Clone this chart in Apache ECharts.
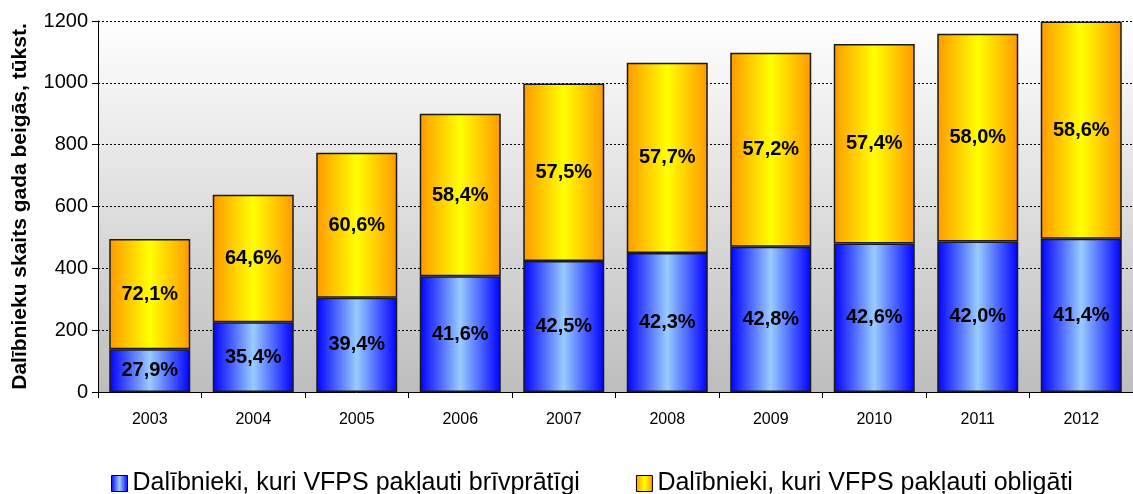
<!DOCTYPE html>
<html>
<head>
<meta charset="utf-8">
<script src="https://cdn.jsdelivr.net/npm/echarts@6/dist/echarts.min.js"></script>
<style>
  html, body { margin: 0; padding: 0; background: #fff; }
  #chart { width: 1133px; height: 494px; }
</style>
</head>
<body>
<div id="chart"></div>
<script>
// dati
const years = ['2003', '2004', '2005', '2006', '2007', '2008', '2009', '2010', '2011', '2012']
const voluntary = [138, 226, 305, 374, 424, 450, 470, 480, 487, 496]
const mandatory = [357, 412, 469, 526, 574, 615, 627, 646, 672, 702]
const voluntaryPct = ['27,9%', '35,4%', '39,4%', '41,6%', '42,5%', '42,3%', '42,8%', '42,6%', '42,0%', '41,4%']
const mandatoryPct = ['72,1%', '64,6%', '60,6%', '58,4%', '57,5%', '57,7%', '57,2%', '57,4%', '58,0%', '58,6%']
const yTicks = [0, 200, 400, 600, 800, 1000, 1200]

const chart = echarts.init(document.getElementById('chart'))

const hGrad = (edge, mid) => new echarts.graphic.LinearGradient(0, 0, 1, 0, [
  { offset: 0, color: edge },
  { offset: 0.5, color: mid },
  { offset: 1, color: edge }
])

const blueFill = hGrad('#0000ff', '#99ccff')
const orangeFill = hGrad('#ff9900', '#ffff00')

const labelStyle = {
  show: true,
  position: 'inside',
  color: '#000',
  fontFamily: 'Liberation Sans, Arial',
  fontWeight: 'bold',
  fontSize: 20
}

const option = {
  animation: false,
  textStyle: { fontFamily: 'Liberation Sans, Arial' },
  grid: {
    left: 98,
    right: -2,
    top: 21,
    bottom: 102,
    show: true,
    borderWidth: 0,
    backgroundColor: new echarts.graphic.LinearGradient(0, 0, 0, 1, [
      { offset: 0, color: '#ffffff' },
      { offset: 1, color: '#bdbdbd' }
    ])
  },
  legend: {
    bottom: -7,
    left: 106,
    itemGap: 56,
    itemWidth: 16,
    itemHeight: 16,
    textStyle: { fontSize: 25, color: '#000', fontFamily: 'Liberation Sans, Arial' },
    data: [
      { name: 'Dalībnieki, kuri VFPS pakļauti brīvprātīgi', icon: 'rect', itemStyle: { color: blueFill, borderColor: '#000', borderWidth: 1 } },
      { name: 'Dalībnieki, kuri VFPS pakļauti obligāti', icon: 'rect', itemStyle: { color: orangeFill, borderColor: '#000', borderWidth: 1 } }
    ]
  },
  xAxis: {
    type: 'category',
    data: years,
    axisLine: { lineStyle: { color: '#000', width: 1 } },
    axisTick: { show: true, length: 6, inside: false, lineStyle: { color: '#000' } },
    axisLabel: { color: '#000', fontSize: 16, margin: 20 }
  },
  yAxis: {
    type: 'value',
    min: yTicks[0],
    max: yTicks[yTicks.length - 1],
    interval: 200,
    name: 'Dalībnieku skaits gada beigās, tūkst.',
    nameLocation: 'middle',
    nameGap: 67,
    nameTextStyle: { fontSize: 21, fontWeight: 'bold', color: '#000' },
    axisLine: { show: true, lineStyle: { color: '#000', width: 1 } },
    axisTick: { show: true, length: 6, lineStyle: { color: '#000' } },
    axisLabel: { color: '#000', fontSize: 20, margin: 10, formatter: v => String(v) },
    splitLine: {
      show: true,
      lineStyle: { color: '#000', type: [2, 2], width: 1 }
    }
  },
  series: [
    {
      name: 'Dalībnieki, kuri VFPS pakļauti brīvprātīgi',
      type: 'bar',
      stack: 'total',
      barWidth: 81,
      data: voluntary,
      itemStyle: { color: blueFill, borderColor: '#1a1a1a', borderWidth: 1.5 },
      label: { ...labelStyle, formatter: p => voluntaryPct[p.dataIndex] }
    },
    {
      name: 'Dalībnieki, kuri VFPS pakļauti obligāti',
      type: 'bar',
      stack: 'total',
      barWidth: 81,
      data: mandatory,
      itemStyle: { color: orangeFill, borderColor: '#1a1a1a', borderWidth: 1.5 },
      label: { ...labelStyle, formatter: p => mandatoryPct[p.dataIndex] }
    }
  ]
}

chart.setOption(option)
</script>
</body>
</html>
